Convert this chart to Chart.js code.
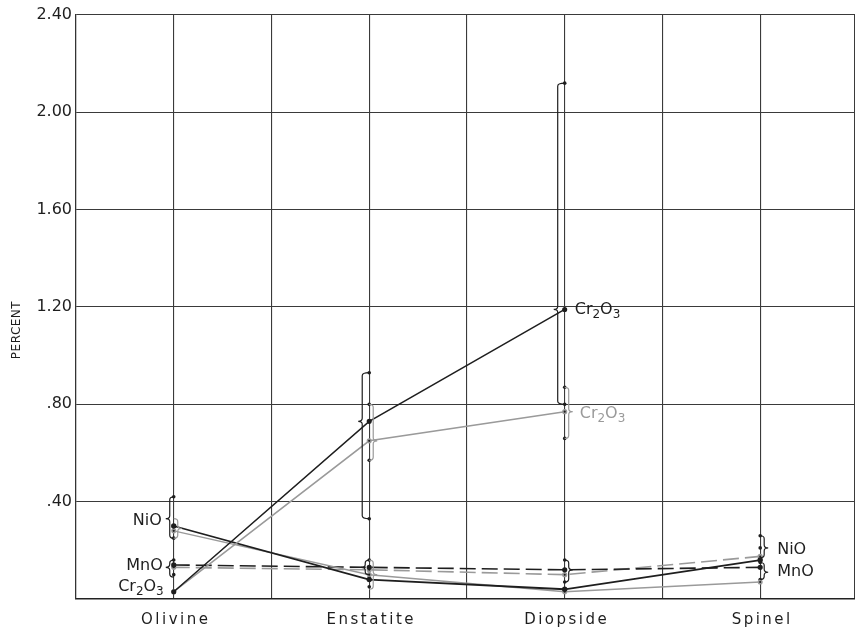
<!DOCTYPE html>
<html>
<head>
<meta charset="utf-8">
<script src="https://cdn.jsdelivr.net/npm/chart.js@4/dist/chart.umd.min.js"></script>
<style>
  html, body { margin: 0; padding: 0; background: #fff; }
  canvas { display: block; }
</style>
</head>
<body>
<canvas id="chart" width="855" height="632"></canvas>
<script>
// --- data ---
const categories = ['Olivine', 'Enstatite', 'Diopside', 'Spinel'];
const categoryPos = [1, 3, 5, 7];           // grid columns where the minerals sit

const cr2o3Dark = [0.03, 0.73, 1.19, null];
const cr2o3Gray = [0.03, 0.65, 0.77, null];
const nioDark   = [0.30, 0.08, 0.04, 0.16];
const nioGray   = [0.28, 0.10, 0.03, 0.07];
const mnoDark   = [0.14, 0.13, 0.12, 0.13];
const mnoGray   = [0.13, 0.12, 0.10, 0.175];

// single analyses plotted as dots on each mineral line
const sampleDots = [
  [0.42, 0.30, 0.28, 0.25, 0.16, 0.13, 0.10, 0.03],
  [0.93, 0.80, 0.73, 0.65, 0.57, 0.33, 0.16, 0.13, 0.10, 0.08, 0.05],
  [2.12, 1.19, 0.87, 0.80, 0.77, 0.66, 0.16, 0.12, 0.07, 0.04],
  [0.26, 0.21, 0.17, 0.15, 0.13, 0.08]
];

// range braces: mineral index, low, high, point of brace
const braceMineral = [0, 0, 0, 1, 1, 1, 1, 2, 2, 2, 3, 3];
const braceLow     = [0.25, 0.25, 0.09, 0.33, 0.57, 0.10, 0.04, 0.80, 0.66, 0.07, 0.17, 0.08];
const braceHigh    = [0.42, 0.33, 0.16, 0.93, 0.80, 0.16, 0.16, 2.12, 0.87, 0.16, 0.26, 0.15];
const braceTip     = [0.33, 0.29, 0.13, 0.73, 0.65, 0.13, 0.10, 1.19, 0.77, 0.12, 0.21, 0.11];
const braceSide    = [-1, 1, -1, -1, 1, -1, 1, -1, 1, 1, 1, 1];
const braceGray    = [false, true, false, false, true, false, true, false, true, false, false, false];

const yTickLabels = ['', '.40', '.80', '1.20', '1.60', '2.00', '2.40'];

const DARK = '#1e1e1e';
const GRAY = '#9a9a9a';

function pts(values) {
  return values.map((v, i) => ({ x: categoryPos[i], y: v })).filter(p => p.y !== null);
}

const dotPoints = [];
sampleDots.forEach((list, i) => list.forEach(v => dotPoints.push({ x: categoryPos[i], y: v })));

function drawFormula(ctx, text, x, y, size, color, alignRight) {
  const pieces = text.match(/[A-Za-z]+|\d+/g);
  const big = size + 'px "DejaVu Sans"';
  const small = Math.round(size * 0.72) + 'px "DejaVu Sans"';
  let w = 0;
  pieces.forEach(p => { ctx.font = /\d/.test(p) ? small : big; w += ctx.measureText(p).width; });
  let cx = alignRight ? x - w : x;
  ctx.fillStyle = color;
  ctx.textBaseline = 'middle';
  ctx.textAlign = 'left';
  pieces.forEach(p => {
    const sub = /\d/.test(p);
    ctx.font = sub ? small : big;
    ctx.fillText(p, cx, sub ? y + size * 0.32 : y);
    cx += ctx.measureText(p).width;
  });
}

function drawBrace(ctx, x0, yTop, yTip, yBot, dir, off) {
  const xs = x0 + dir * off;
  const xt = x0 + dir * (off + 4);
  const r = Math.min(3, Math.abs(yBot - yTop) / 5);
  ctx.beginPath();
  ctx.moveTo(x0, yTop);
  ctx.quadraticCurveTo(xs, yTop, xs, yTop + r);
  ctx.lineTo(xs, yTip - r);
  ctx.quadraticCurveTo(xs, yTip, xt, yTip);
  ctx.quadraticCurveTo(xs, yTip, xs, yTip + r);
  ctx.lineTo(xs, yBot - r);
  ctx.quadraticCurveTo(xs, yBot, x0, yBot);
  ctx.stroke();
}

const annotate = {
  id: 'annotate',
  afterDatasetsDraw(chart) {
    const ctx = chart.ctx;
    const xs = chart.scales.x, ys = chart.scales.y;
    ctx.save();
    // braces
    braceMineral.forEach((m, i) => {
      const x0 = xs.getPixelForValue(categoryPos[m]);
      ctx.strokeStyle = braceGray[i] ? GRAY : DARK;
      ctx.lineWidth = 1.2;
      const big = braceHigh[i] - braceLow[i] > 0.3;
      drawBrace(ctx, x0, ys.getPixelForValue(braceHigh[i]), ys.getPixelForValue(braceTip[i]),
        ys.getPixelForValue(braceLow[i]), braceSide[i], big ? 7 : 4);
    });
    // labels
    const xo = xs.getPixelForValue(categoryPos[0]);
    const xd = xs.getPixelForValue(categoryPos[2]);
    const xsp = xs.getPixelForValue(categoryPos[3]);
    drawFormula(ctx, 'NiO', xo - 12, ys.getPixelForValue(0.32), 16, DARK, true);
    drawFormula(ctx, 'MnO', xo - 11, ys.getPixelForValue(0.135), 16, DARK, true);
    drawFormula(ctx, 'Cr2O3', xo - 10, ys.getPixelForValue(0.05), 16, DARK, true);
    drawFormula(ctx, 'Cr2O3', xd + 10, ys.getPixelForValue(1.19), 16, DARK, false);
    drawFormula(ctx, 'Cr2O3', xd + 15, ys.getPixelForValue(0.76), 16, GRAY, false);
    drawFormula(ctx, 'NiO', xsp + 17, ys.getPixelForValue(0.20), 16, DARK, false);
    drawFormula(ctx, 'MnO', xsp + 17, ys.getPixelForValue(0.11), 16, DARK, false);
    ctx.restore();
  },
  afterDraw(chart) {
    const ctx = chart.ctx;
    const xs = chart.scales.x;
    ctx.save();
    ctx.fillStyle = DARK;
    ctx.font = '15px "DejaVu Sans"';
    ctx.letterSpacing = '2.5px';
    ctx.textAlign = 'center';
    ctx.textBaseline = 'middle';
    categories.forEach((c, i) => ctx.fillText(c, xs.getPixelForValue(categoryPos[i]) + 2, 620));
    // axis title
    ctx.font = '12px "DejaVu Sans"';
    ctx.letterSpacing = '0.5px';
    ctx.translate(17, 330);
    ctx.rotate(-Math.PI / 2);
    ctx.fillText('PERCENT', 0, 0);
    ctx.restore();
  }
};

new Chart(document.getElementById('chart'), {
  type: 'line',
  data: {
    datasets: [
      { data: pts(cr2o3Dark), borderColor: DARK, borderWidth: 1.5 },
      { data: pts(cr2o3Gray), borderColor: GRAY, borderWidth: 1.5 },
      { data: pts(nioDark), borderColor: DARK, borderWidth: 1.8 },
      { data: pts(nioGray), borderColor: GRAY, borderWidth: 1.5 },
      { data: pts(mnoDark), borderColor: DARK, borderWidth: 1.6, borderDash: [16, 6] },
      { data: pts(mnoGray), borderColor: GRAY, borderWidth: 1.6, borderDash: [16, 6] },
      { type: 'scatter', data: dotPoints, showLine: false, pointRadius: 1.8,
        pointBackgroundColor: DARK, pointBorderWidth: 0 }
    ]
  },
  options: {
    responsive: false,
    animation: false,
    devicePixelRatio: 1,
    layout: { autoPadding: false, padding: { top: 15, bottom: 33, left: 0, right: 0 } },
    elements: {
      line: { tension: 0, fill: false },
      point: { radius: 1.8, backgroundColor: DARK, borderWidth: 0 }
    },
    plugins: { legend: { display: false }, tooltip: { enabled: false } },
    scales: {
      x: {
        type: 'linear', min: 0, max: 7.97,
        ticks: { stepSize: 1, display: false },
        grid: { color: '#3a3a3a', lineWidth: 1.1, drawTicks: false },
        border: { color: '#222', width: 1.5 }
      },
      y: {
        min: 0, max: 2.4,
        afterFit(scale) { scale.width = 76; },
        ticks: {
          stepSize: 0.4, padding: 4, color: DARK,
          font: { family: 'DejaVu Sans', size: 16 },
          callback: (v, i) => yTickLabels[i]
        },
        grid: { color: '#3a3a3a', lineWidth: 1.1, drawTicks: false },
        border: { color: '#333', width: 1.2 }
      }
    }
  },
  plugins: [annotate]
});
</script>
</body>
</html>
